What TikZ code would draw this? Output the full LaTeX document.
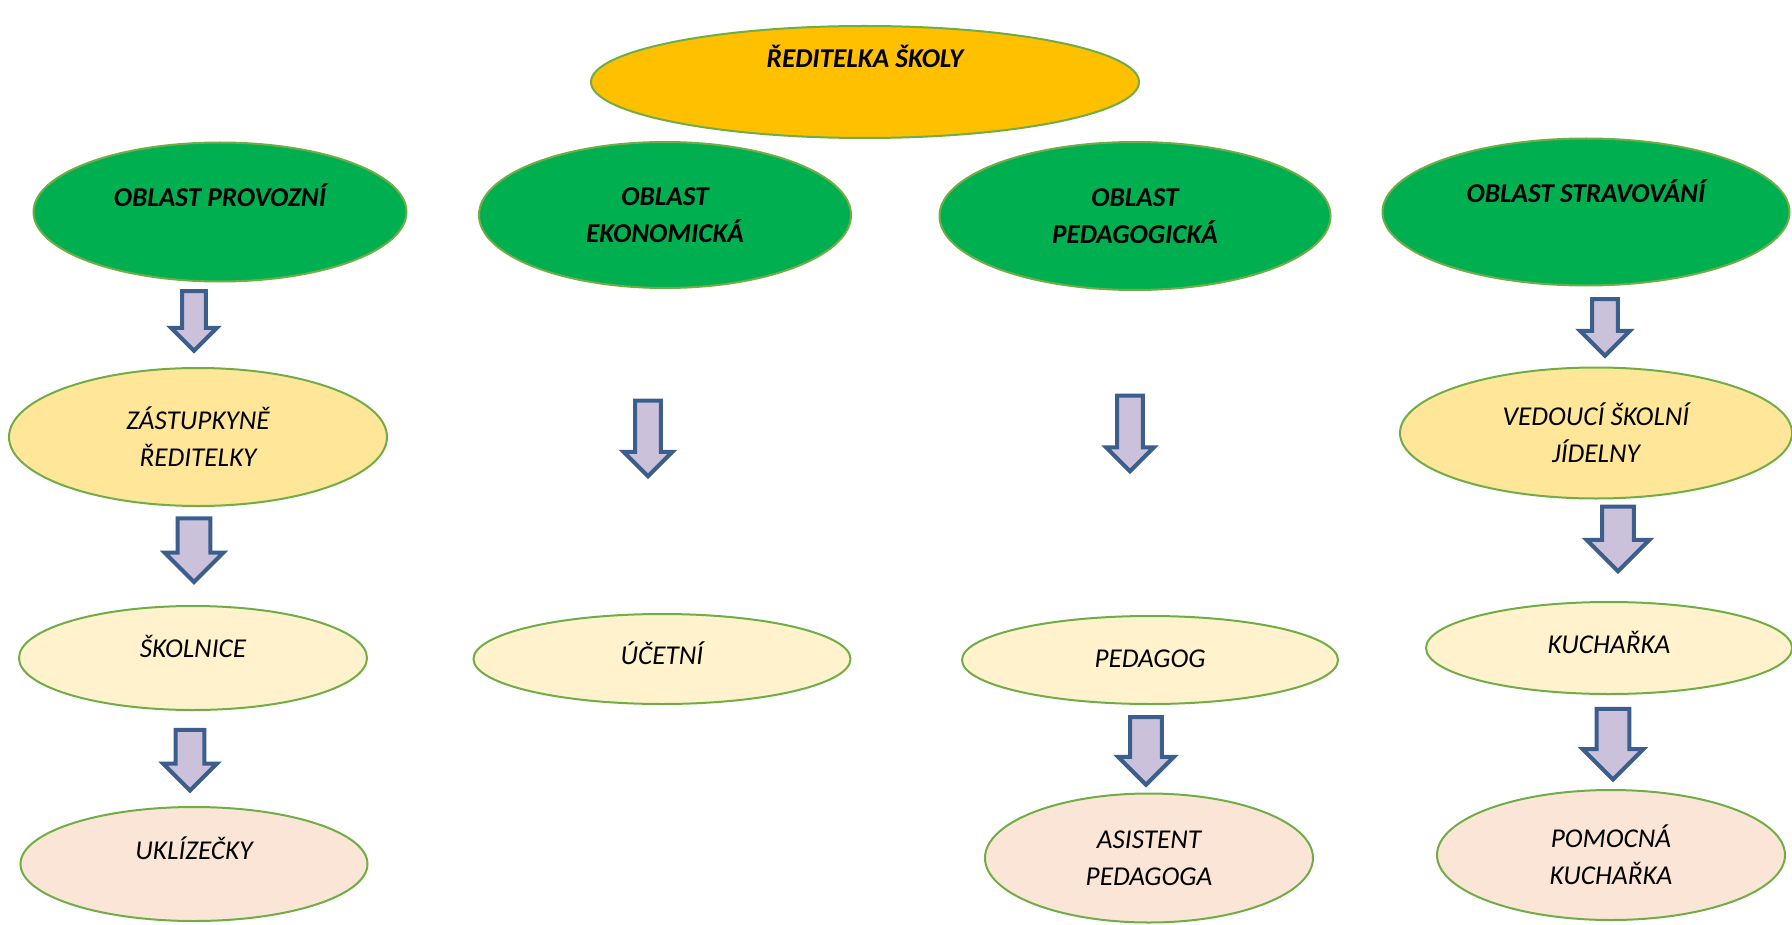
\documentclass[tikz,border=0pt]{standalone}
\usepackage{fontspec}
\setmainfont{Carlito}
\usetikzlibrary{shapes.geometric}
\usetikzlibrary{shapes.arrows}

\definecolor{obrys}{HTML}{70AD47}
\definecolor{zlata}{HTML}{FFC000}
\definecolor{zelena}{HTML}{00B050}
\definecolor{druha}{HTML}{FFE699}
\definecolor{treti}{HTML}{FFF2CC}
\definecolor{ctvrta}{HTML}{FBE5D6}
\definecolor{modra}{HTML}{3B5E8C}
\definecolor{fialova}{HTML}{CCC1DA}

\begin{document}
\begin{tikzpicture}
		[x=0.5pt, y=-0.5pt,
		 main/.style = {draw=obrys, line width=1pt, ellipse, inner sep=0pt, align=center,
			font=\itshape\fontsize{13.6}{18.5}\selectfont},
		 oblast/.style = {main, fill=zelena, font=\bfseries\itshape\fontsize{13.6}{18.5}\selectfont},
		 lift/.style = {text height=10pt, text depth=#1pt},
		 sipka/.style n args = {3}{single arrow, rotate=-90, draw=modra, fill=fialova,
			line width=2pt, inner xsep=0pt, inner ysep=#2pt, minimum width=0pt,
			minimum height=#1pt, single arrow head extend=#3pt}]
	\useasboundingbox (0,0) rectangle (1792,925);
	% vedeni
	\node[oblast, fill=zlata, lift=24, minimum width=274pt, minimum height=56pt] (reditelka) at (865,82) {ŘEDITELKA ŠKOLY};
	% oblasti
	\node[oblast, lift=15, minimum width=186.5pt, minimum height=69.5pt] (provoz) at (220,212) {OBLAST PROVOZNÍ};
	\node[oblast, minimum width=186pt, minimum height=73pt] (ekonom) at (665,215) {OBLAST\\EKONOMICKÁ};
	\node[oblast, minimum width=195.5pt, minimum height=74pt] (pedag) at (1135,216) {OBLAST\\PEDAGOGICKÁ};
	\node[oblast, lift=19, minimum width=203.5pt, minimum height=73.5pt] (strav) at (1586,212) {OBLAST STRAVOVÁNÍ};
	% druha uroven
	\node[main, fill=druha, minimum width=189pt, minimum height=69pt] (zast) at (198,437) {ZÁSTUPKYNĚ\\ŘEDITELKY};
	\node[main, fill=druha, minimum width=196pt, minimum height=65.5pt] (vedouci) at (1596,433) {VEDOUCÍ ŠKOLNÍ\\JÍDELNY};
	% treti uroven
	\node[main, fill=treti, lift=11, minimum width=174pt, minimum height=52pt] (skolnice) at (193,658) {ŠKOLNICE};
	\node[main, fill=treti, lift=5, minimum width=188.5pt, minimum height=45pt] (ucetni) at (662,659) {ÚČETNÍ};
	\node[main, fill=treti, lift=3, minimum width=188pt, minimum height=44pt] (pedagog) at (1150,660) {PEDAGOG};
	\node[main, fill=treti, lift=5, minimum width=183pt, minimum height=46pt] (kucharka) at (1609,648) {KUCHAŘKA};
	% ctvrta uroven
	\node[main, fill=ctvrta, lift=15, minimum width=173.5pt, minimum height=57pt] (uklizecky) at (194,864) {UKLÍZEČKY};
	\node[main, fill=ctvrta, minimum width=164pt, minimum height=64.5pt] (asistent) at (1149,858) {ASISTENT\\PEDAGOGA};
	\node[main, fill=ctvrta, minimum width=174pt, minimum height=65pt] (pomocna) at (1611,855) {POMOCNÁ\\KUCHAŘKA};
	% sipky
	\node[sipka={29.8}{4.9}{5.5}] (sip1) at (194,315) {};
	\node[sipka={31.8}{7.15}{6.5}] (sip2) at (194,542) {};
	\node[sipka={30.3}{6.15}{6.25}] (sip3) at (190,753) {};
	\node[sipka={37.8}{5.4}{5.75}] (sip4) at (648,432) {};
	\node[sipka={37.8}{5.4}{5.5}] (sip5) at (1130,427) {};
	\node[sipka={33.8}{6.9}{6}] (sip6) at (1146,743) {};
	\node[sipka={28.3}{5.4}{6}] (sip7) at (1605,321) {};
	\node[sipka={32.3}{6.9}{7.75}] (sip8) at (1618,531) {};
	\node[sipka={35.3}{7.15}{7}] (sip9) at (1613,736) {};
\end{tikzpicture}
\end{document}
